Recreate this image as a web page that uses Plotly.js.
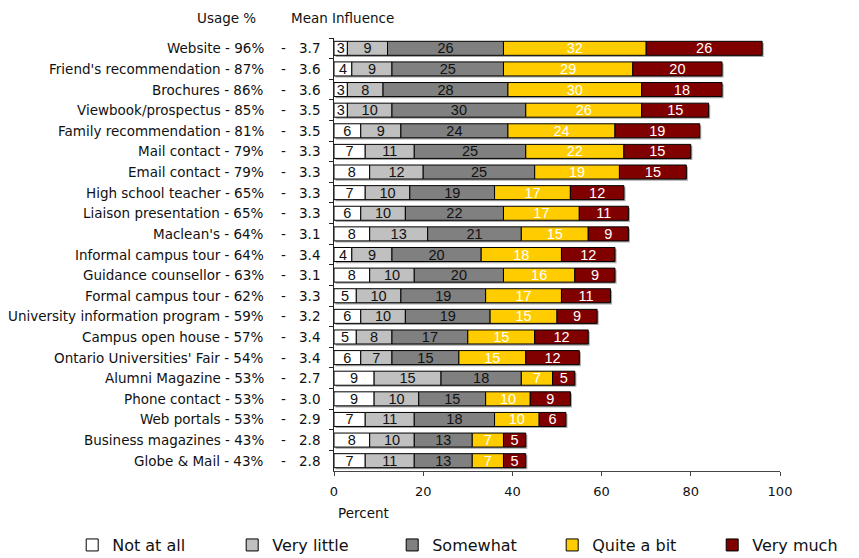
<!DOCTYPE html>
<html>
<head>
<meta charset="utf-8">
<script src="https://cdn.plot.ly/plotly-3.0.1.min.js"></script>
<style>
  html, body { margin: 0; padding: 0; background: #ffffff; }
  #chart { width: 859px; height: 558px; }
</style>
</head>
<body>
<div id="chart"></div>
<script>
// Information sources, ordered by how widely they were used
const sources = [
  "Website", "Friend's recommendation", "Brochures", "Viewbook/prospectus",
  "Family recommendation", "Mail contact", "Email contact", "High school teacher",
  "Liaison presentation", "Maclean's", "Informal campus tour", "Guidance counsellor",
  "Formal campus tour", "University information program", "Campus open house",
  "Ontario Universities' Fair", "Alumni Magazine", "Phone contact", "Web portals",
  "Business magazines", "Globe & Mail"
];
const usagePct = [96, 87, 86, 85, 81, 79, 79, 65, 65, 64, 64, 63, 62, 59, 57, 54, 53, 53, 53, 43, 43];
const meanInfluence = [3.7, 3.6, 3.6, 3.5, 3.5, 3.3, 3.3, 3.3, 3.3, 3.1, 3.4, 3.1, 3.3, 3.2, 3.4, 3.4, 2.7, 3.0, 2.9, 2.8, 2.8];

// Share of respondents per influence level (percent)
const notAtAll   = [3, 4, 3, 3, 6, 7, 8, 7, 6, 8, 4, 8, 5, 6, 5, 6, 9, 9, 7, 8, 7];
const veryLittle = [9, 9, 8, 10, 9, 11, 12, 10, 10, 13, 9, 10, 10, 10, 8, 7, 15, 10, 11, 10, 11];
const somewhat   = [26, 25, 28, 30, 24, 25, 25, 19, 22, 21, 20, 20, 19, 19, 17, 15, 18, 15, 18, 13, 13];
const quiteABit  = [32, 29, 30, 26, 24, 22, 19, 17, 17, 15, 18, 16, 17, 15, 15, 15, 7, 10, 10, 7, 7];
const veryMuch   = [26, 20, 18, 15, 19, 15, 15, 12, 11, 9, 12, 9, 11, 9, 12, 12, 5, 9, 6, 5, 5];

const levelNames  = ["Not at all", "Very little", "Somewhat", "Quite a bit", "Very much"];
const levelValues = [notAtAll, veryLittle, somewhat, quiteABit, veryMuch];
const levelColors = ["#ffffff", "#c0c0c0", "#808080", "#ffcc00", "#800000"];
const levelText   = ["#111111", "#111111", "#111111", "#ffffff", "#ffffff"];

const LABEL_FONT = "DejaVu Sans, Verdana, sans-serif";
const BAR_FONT = "Liberation Sans, Arial, sans-serif";
const BAR_W = 0.68;

// running left edge of every segment in each row
const starts = levelValues.map((vals, k) =>
  vals.map((_, i) => levelValues.slice(0, k).reduce((s, arr) => s + arr[i], 0)));
const totals = sources.map((_, i) => levelValues.reduce((s, arr) => s + arr[i], 0));

const traces = [];

// soft drop shadow behind each stacked row
traces.push({
  type: "bar", orientation: "h",
  y: sources, x: totals, base: 0.35,
  width: BAR_W, offset: -BAR_W / 2 + 0.08,
  marker: { color: "#a6a6a6", line: { width: 0 } },
  showlegend: false, hoverinfo: "skip"
});

levelNames.forEach((name, k) => {
  traces.push({
    type: "bar", orientation: "h", name: name,
    y: sources, x: levelValues[k], base: starts[k],
    width: BAR_W, offset: -BAR_W / 2,
    marker: { color: levelColors[k], line: { color: "#000000", width: 1 } },
    text: levelValues[k].map(String),
    textposition: "inside", insidetextanchor: "middle", textangle: 0,
    constraintext: "none",
    textfont: { family: BAR_FONT, size: 14.5, color: levelText[k] },
    legendwidth: k === levelNames.length - 1 ? 95 : 115,
    hovertemplate: "%{y}<br>" + name + ": %{x}%<extra></extra>"
  });
});

const annotations = [];
sources.forEach((src, i) => {
  annotations.push({
    xref: "paper", x: 0, xshift: -68, xanchor: "right",
    yref: "y", y: src, yanchor: "middle",
    text: src.replace(/&/g, "&amp;") + " - " + usagePct[i] + "%",
    showarrow: false, font: { family: LABEL_FONT, size: 13.5, color: "#111111" }
  });
  annotations.push({
    xref: "paper", x: 0, xshift: -51, xanchor: "center",
    yref: "y", y: src, yanchor: "middle",
    text: "-", showarrow: false,
    font: { family: LABEL_FONT, size: 13.5, color: "#111111" }
  });
  annotations.push({
    xref: "paper", x: 0, xshift: -12, xanchor: "right",
    yref: "y", y: src, yanchor: "middle",
    text: meanInfluence[i].toFixed(1), showarrow: false,
    font: { family: LABEL_FONT, size: 13.5, color: "#111111" }
  });
});

// column headings above the row labels
annotations.push({
  xref: "paper", x: 0, xshift: -76, xanchor: "right",
  yref: "paper", y: 1, yshift: 20, yanchor: "middle",
  text: "Usage %", showarrow: false,
  font: { family: LABEL_FONT, size: 13.5, color: "#111111" }
});
annotations.push({
  xref: "paper", x: 0, xshift: -45, xanchor: "left",
  yref: "paper", y: 1, yshift: 20, yanchor: "middle",
  text: "Mean Influence", showarrow: false,
  font: { family: LABEL_FONT, size: 13.5, color: "#111111" }
});
// axis caption under the tick labels
annotations.push({
  xref: "paper", x: 0, xshift: 2, xanchor: "left",
  yref: "paper", y: 0, yshift: -42, yanchor: "middle",
  text: "Percent", showarrow: false,
  font: { family: LABEL_FONT, size: 13.5, color: "#111111" }
});

const layout = {
  width: 859, height: 558,
  margin: { l: 334, r: 79, t: 38, b: 87, autoexpand: false },
  paper_bgcolor: "#ffffff", plot_bgcolor: "#ffffff",
  barmode: "overlay",
  showlegend: true,
  legend: {
    orientation: "h", x: -0.587, xanchor: "left", y: -0.171, yanchor: "middle",
    font: { family: LABEL_FONT, size: 16, color: "#111111" },
    traceorder: "normal", itemclick: false, itemdoubleclick: false,
    bgcolor: "rgba(0,0,0,0)", borderwidth: 0
  },
  xaxis: {
    range: [0, 100], tickvals: [0, 20, 40, 60, 80, 100],
    showgrid: false, zeroline: false,
    showline: true, linecolor: "#444444", linewidth: 1,
    ticks: "outside", ticklen: 4, tickcolor: "#444444",
    ticklabelstandoff: 4,
    tickfont: { family: LABEL_FONT, size: 13, color: "#111111" },
    fixedrange: true
  },
  yaxis: {
    type: "category", categoryorder: "array", categoryarray: sources,
    range: [sources.length - 0.5, -0.5],
    showgrid: false, zeroline: false,
    showline: true, linecolor: "#222222", linewidth: 1,
    ticks: "outside", ticklen: 4, tickcolor: "#222222", tickson: "boundaries",
    showticklabels: false, fixedrange: true
  },
  annotations: annotations
};

Plotly.newPlot("chart", traces, layout, { displayModeBar: false });
</script>
</body>
</html>
